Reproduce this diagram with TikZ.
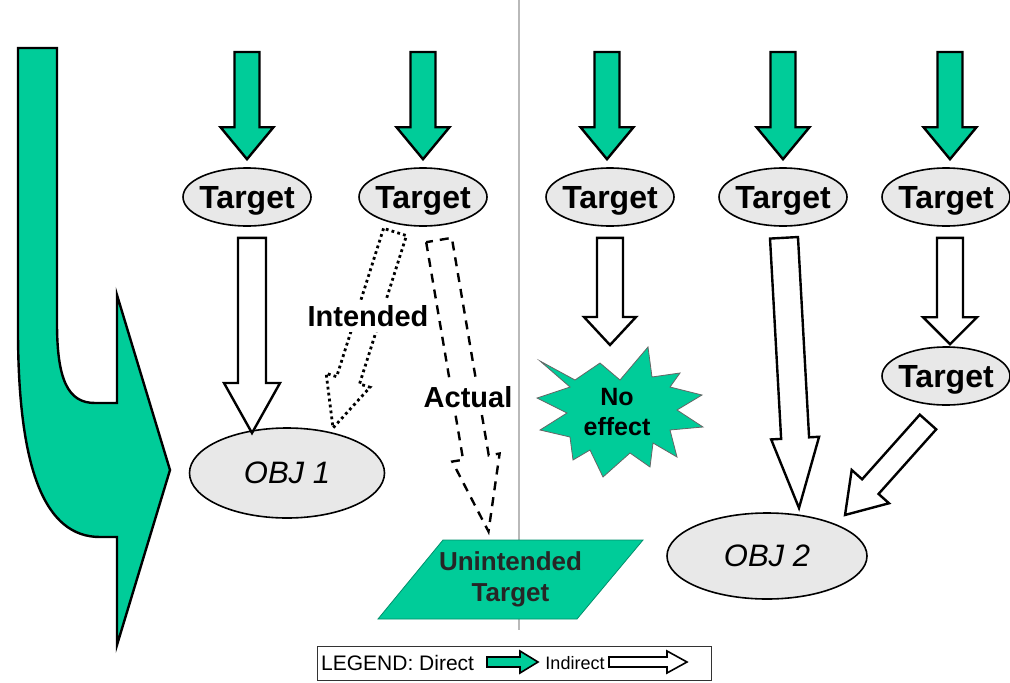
\documentclass[tikz,border=0pt]{standalone}
\usepackage{fontspec}
\setmainfont{Liberation Sans}
\usetikzlibrary{calc,shapes.geometric}
\definecolor{dgreen}{RGB}{0,204,153}
\definecolor{ellfill}{RGB}{232,232,232}
\definecolor{sepgray}{RGB}{185,185,185}

% block arrow from #2 to #3 ; #4 shaft half width, #5 head half width, #6 head length
\newcommand\blockarrow[6]{%
  \path let \p1=(#2), \p2=(#3) in \pgfextra{%
    \pgfmathsetmacro\baang{atan2(\y2-\y1,\x2-\x1)}%
    \pgfmathsetmacro\balen{veclen(\x2-\x1,\y2-\y1)}%
    \xdef\baAng{\baang}\xdef\baLen{\balen}%
    \xdef\baX{\x1}\xdef\baY{\y1}};
  \pgfmathsetmacro\baB{\baLen-#6}%
  \begin{scope}[shift={(\baX,\baY)},rotate=\baAng]
    \draw[#1] (0pt,-#4pt) -- (\baB pt,-#4pt) -- (\baB pt,-#5pt) -- (\baLen pt,0pt)
      -- (\baB pt,#5pt) -- (\baB pt,#4pt) -- (0pt,#4pt) -- cycle;
  \end{scope}}

\begin{document}
\begin{tikzpicture}[x=1pt,y=-1pt,
  direct/.style={draw=black,line width=2.4pt,fill=dgreen,line join=miter},
  indirect/.style={draw=black,line width=2.4pt,fill=white,line join=miter},
  intended/.style={draw=black,line width=2.8pt,dash pattern=on 2.8pt off 3.2pt,line join=miter},
  actual/.style={draw=black,line width=2.4pt,dash pattern=on 9pt off 7pt,line join=miter},
  targ/.style={ellipse,draw=black,line width=1.6pt,fill=ellfill,minimum width=128pt,minimum height=58pt,
    inner xsep=-30pt,inner ysep=0pt,text depth=0pt,font=\fontsize{32}{34}\selectfont\bfseries},
  obj/.style={ellipse,draw=black,line width=1.6pt,fill=ellfill,inner xsep=-30pt,inner ysep=0pt,
    font=\fontsize{31}{33}\selectfont\itshape},
  lbl/.style={fill=white,inner xsep=2pt,inner ysep=5pt,font=\fontsize{29}{31}\selectfont\bfseries},
  legtext/.style={inner sep=0pt},
  legarrow/.style={draw=black,line width=1.6pt,line join=miter}]
\useasboundingbox (0,0) rectangle (1010,683);

% separator
\draw[sepgray,line width=2pt] (519,0) -- (519,630);

% big curved arrow
\draw[fill=dgreen,line width=2.4pt,line join=miter]
  (18,48) -- (57,48) -- (57,323) .. controls (57,380) and (68,403) .. (95,403)
  -- (117,403) -- (117,295) -- (170,470) -- (117,645) -- (117,537) -- (100,537)
  .. controls (45,537) and (18,470) .. (18,330) -- cycle;

% target nodes
\node[targ] (T1) at (247,197) {Target};
\node[targ] (T2) at (423,197) {Target};
\node[targ] (T3) at (610,197) {Target};
\node[targ] (T4) at (783,197) {Target};
\node[targ] (T5) at (946,197) {Target};
\node[targ] (T6) at (946,376) {Target};

% objectives
\node[obj,minimum width=195pt,minimum height=90pt] (O1) at (287,473) {OBJ 1};
\node[obj,minimum width=200pt,minimum height=86pt] (O2) at (767,556) {OBJ 2};

% no effect starburst
\coordinate (nec) at (612,412);
\begin{scope}[shift={(nec)}]
\draw[fill=dgreen,draw=black!60,line width=0.8pt,line join=miter]
  (-72,-51) -- (-37,-32) -- (-12,-49) -- (8,-32) -- (36,-65) -- (40,-35) -- (68,-39)
  -- (58,-25) -- (90,-17) -- (65,-2) -- (91,15) -- (58,18) -- (65,45) -- (41,31)
  -- (38,55) -- (18,41) -- (-9,65) -- (-22,38) -- (-39,48) -- (-42,25) -- (-72,18)
  -- (-45,1) -- (-75,-14) -- (-42,-25) -- cycle;
\end{scope}
\node[align=center,inner sep=0pt,font=\fontsize{25}{30}\selectfont\bfseries] (NE) at (617,412) {No\\effect};

% unintended target parallelogram
\coordinate (utc) at (510.5,579.5);
\draw[fill=dgreen,draw=dgreen!70!black,line width=0.8pt]
  ($(utc)+(-67.5,-39.5)$) -- ($(utc)+(132.5,-39.5)$) -- ($(utc)+(66.5,39.5)$) -- ($(utc)+(-132.5,39.5)$) -- cycle;
\node[align=center,inner sep=0pt,font=\fontsize{26}{31}\selectfont\bfseries,text=black!85] (UT) at (utc) {Unintended\\Target};

% direct (green) arrows into targets
\coordinate (g1) at (247,52);
\coordinate (g2) at (423,52);
\coordinate (g3) at (607,52);
\coordinate (g4) at (783,52);
\coordinate (g5) at (950,52);
\blockarrow{direct}{g1}{$(T1.north)+(0,-8)$}{12.5}{26.5}{32}
\blockarrow{direct}{g2}{$(T2.north)+(0,-8)$}{12.5}{26.5}{32}
\blockarrow{direct}{g3}{$(T3.north)+(-3,-8)$}{12.5}{26.5}{32}
\blockarrow{direct}{g4}{$(T4.north)+(0,-8)$}{12.5}{26.5}{32}
\blockarrow{direct}{g5}{$(T5.north)+(4,-8)$}{12.5}{26.5}{32}

% indirect arrows
\blockarrow{indirect}{$(T1.south)+(5,11)$}{$(O1.center)+(-35,-40)$}{14}{28}{50}
\blockarrow{indirect}{$(T3.south)+(0,11)$}{$(NE.center)+(-7,-67)$}{13}{26}{28}
\blockarrow{indirect}{$(T4.south)+(1,11)$}{$(O2.center)+(32,-48)$}{14}{24}{70}
\blockarrow{indirect}{$(T5.south)+(4,11)$}{$(T6.north)+(4,-2)$}{13}{27}{27}
\blockarrow{indirect}{$(T6.center)+(-18,46)$}{$(O2.center)+(78,-41)$}{11}{25}{38}

% intended (dotted) and actual (dashed)
\blockarrow{intended}{$(T2.center)+(-28,35)$}{$(O1.center)+(46,-45)$}{12}{23}{50}
\blockarrow{actual}{$(T2.center)+(16,43)$}{$(UT.center)+(-22,-48)$}{13}{24}{75}
\node[lbl] (lint) at (368,316) {Intended};
\node[lbl] (lact) at (468,397) {Actual};

% legend
\node[draw=black!80,line width=1pt,minimum width=394pt,minimum height=34pt,inner sep=0pt] (leg) at (514,663) {};
\node[legtext,anchor=west,font=\fontsize{21}{23}\selectfont] (legl) at (321,663) {LEGEND: Direct};
\node[legtext,font=\fontsize{18}{20}\selectfont] (legi) at (575,663) {Indirect};
\coordinate (ld1) at (487,662);
\coordinate (ld2) at (538,662);
\coordinate (li1) at (609,662);
\coordinate (li2) at (687,662);
\blockarrow{legarrow,fill=dgreen}{ld1}{ld2}{5}{11}{18}
\blockarrow{legarrow,fill=white}{li1}{li2}{5}{11}{20}
\end{tikzpicture}
\end{document}
